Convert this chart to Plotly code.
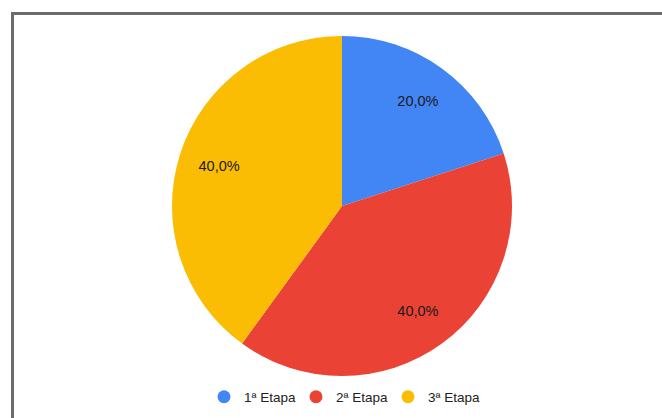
import plotly.graph_objects as go

categories = ["1ª Etapa", "2ª Etapa", "3ª Etapa"]
values = [20, 40, 40]
colors = ["#4285F4", "#EA4335", "#FBBC04"]

W, H = 662, 418
cx, cy, r = 342, 206, 170
dom = dict(x=[(cx - r) / W, (cx + r) / W], y=[1 - (cy + r) / H, 1 - (cy - r) / H])

fig = go.Figure()
# filled slices
fig.add_trace(go.Pie(
    labels=categories, values=values, sort=False, direction="clockwise", rotation=0,
    marker=dict(colors=colors, line=dict(width=0)),
    textinfo="none", domain=dom, showlegend=False, hoverinfo="label+percent",
))
# transparent ring carrying the percentage labels further out
fig.add_trace(go.Pie(
    labels=categories, values=values, sort=False, direction="clockwise", rotation=0, hole=0.52,
    marker=dict(colors=["rgba(0,0,0,0)"] * len(values), line=dict(width=0)),
    texttemplate="%{percent:.1%}", textposition="inside", insidetextorientation="horizontal",
    textfont=dict(family="Liberation Sans, Arial", size=14.5, color="#1a1a1a"),
    domain=dom, showlegend=False, hoverinfo="skip",
))
for c, col in zip(categories, colors):
    fig.add_trace(go.Scatter(x=[None], y=[None], mode="markers", name=c,
                             marker=dict(symbol="circle", size=13, color=col)))

fig.update_layout(
    width=W, height=H, margin=dict(l=0, r=0, t=0, b=0),
    paper_bgcolor="white", plot_bgcolor="white", separators=",.",
    xaxis=dict(visible=False), yaxis=dict(visible=False),
    legend=dict(orientation="h", x=cx / W, xanchor="center", y=1 - 397 / H, yanchor="middle",
                font=dict(family="Liberation Sans, Arial", size=13.5, color="#222222"),
                itemwidth=30, entrywidth=47, bgcolor="rgba(0,0,0,0)"),
    shapes=[dict(type="rect", xref="paper", yref="paper",
                 x0=12.5 / W, x1=1.05, y0=-0.05, y1=1 - 13.5 / H,
                 line=dict(color="#6b6b6b", width=3), fillcolor="rgba(0,0,0,0)")],
)
fig.write_html("out.html")
